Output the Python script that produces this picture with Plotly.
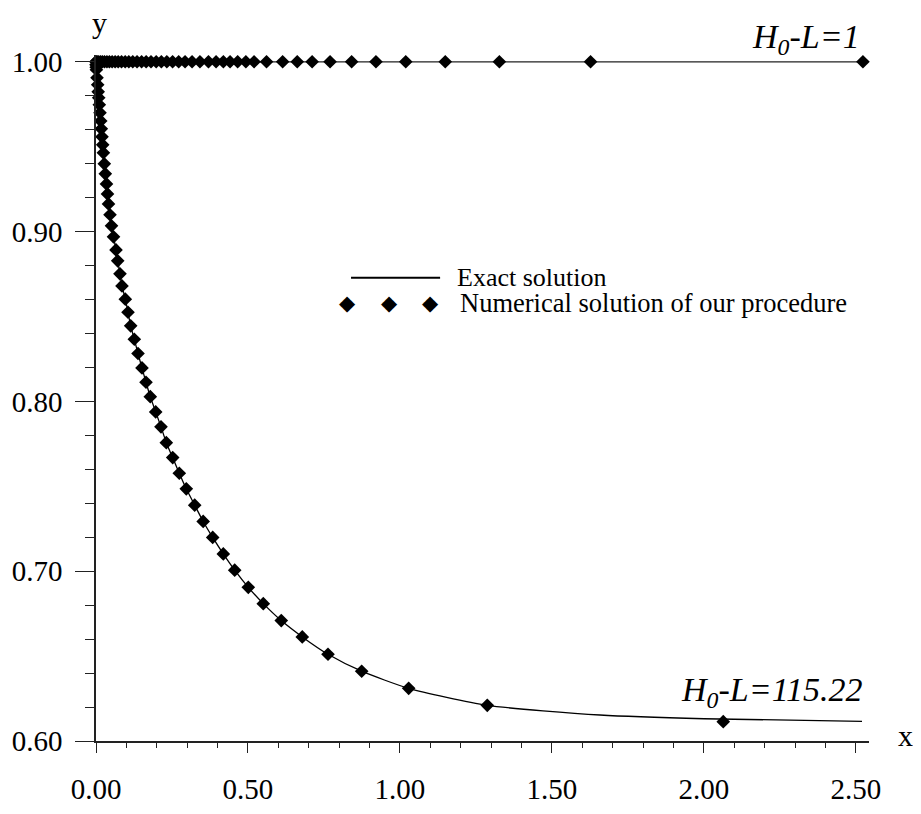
import plotly.graph_objects as go

# ---- data ----
# numerical solution, H0-L = 115.22 (lower curve)
num_low_x = [0.000, 0.000, 0.0007, 0.0013, 0.0033, 0.0056, 0.0072, 0.0089, 0.0109, 0.0132,
             0.0155, 0.0174, 0.0197, 0.0220, 0.0243, 0.0273, 0.0306, 0.0345, 0.0378, 0.0411,
             0.0461, 0.0510, 0.0576, 0.0658, 0.0714, 0.0789, 0.0855, 0.0964, 0.1053, 0.1141,
             0.1260, 0.1382, 0.1513, 0.1645, 0.1786, 0.1964, 0.2138, 0.2313, 0.2523, 0.2740,
             0.2970, 0.3247, 0.3526, 0.3839, 0.4188, 0.4563, 0.5010, 0.5503, 0.6095, 0.6786,
             0.7632, 0.8740, 1.0286, 1.2872, 2.0635]
num_low_y = [1.0000, 0.9982, 0.9968, 0.9953, 0.9906, 0.9865, 0.9823, 0.9788, 0.9747, 0.9700,
             0.9652, 0.9605, 0.9558, 0.9511, 0.9464, 0.9399, 0.9340, 0.9281, 0.9222, 0.9163,
             0.9099, 0.9034, 0.8969, 0.8892, 0.8828, 0.8751, 0.8680, 0.8602, 0.8525, 0.8445,
             0.8366, 0.8282, 0.8197, 0.8113, 0.8028, 0.7938, 0.7850, 0.7757, 0.7669, 0.7577,
             0.7485, 0.7389, 0.7293, 0.7199, 0.7102, 0.7006, 0.6905, 0.6809, 0.6709, 0.6613,
             0.6511, 0.6411, 0.6310, 0.6210, 0.6114]

# exact solution tail, H0-L = 115.22
exact_tail_x = [1.658, 2.000, 2.520]
exact_tail_y = [0.6153, 0.6131, 0.6116]

# numerical solution, H0-L = 1 (upper line)
num_up_x = [0.000, 0.004, 0.009, 0.015, 0.021, 0.028, 0.036, 0.044, 0.053, 0.063,
            0.073, 0.084, 0.096, 0.108, 0.121, 0.135, 0.150, 0.165, 0.181, 0.198,
            0.215, 0.233, 0.252, 0.272, 0.293, 0.316, 0.342, 0.370, 0.395, 0.419,
            0.441, 0.466, 0.493, 0.520, 0.561, 0.614, 0.662, 0.711, 0.770, 0.841,
            0.921, 1.019, 1.149, 1.327, 1.627, 2.523]
num_up_y = [1.0] * len(num_up_x)

exact_up_x = [0.0, 2.52]
exact_up_y = [1.0, 1.0]

x_ticks = [0.0, 0.5, 1.0, 1.5, 2.0, 2.5]
y_ticks = [0.6, 0.7, 0.8, 0.9, 1.0]

legend_labels = ["Exact solution", "Numerical solution of our procedure"]
curve_labels = ["<i>H<sub>0</sub>-L=1</i>", "<i>H<sub>0</sub>-L=115.22</i>"]

FONT = "Liberation Serif"

fig = go.Figure()

# exact solutions
fig.add_trace(go.Scatter(x=exact_up_x, y=exact_up_y, mode="lines",
                         line=dict(color="#222", width=1.3), showlegend=False, cliponaxis=False))
fig.add_trace(go.Scatter(x=num_low_x[:-1] + exact_tail_x, y=num_low_y[:-1] + exact_tail_y,
                         mode="lines", line=dict(color="black", width=1.3, shape="spline", smoothing=0.6),
                         showlegend=False, cliponaxis=False))
# numerical solutions
fig.add_trace(go.Scatter(x=num_up_x, y=num_up_y, mode="markers",
                         marker=dict(symbol="diamond", size=10.5, color="black"),
                         showlegend=False, cliponaxis=False))
fig.add_trace(go.Scatter(x=num_low_x, y=num_low_y, mode="markers",
                         marker=dict(symbol="diamond", size=10.5, color="black"),
                         showlegend=False, cliponaxis=False))

# manual legend
fig.add_shape(type="line", xref="x", yref="y", x0=0.839, x1=1.132, y0=0.8728, y1=0.8728,
              line=dict(color="black", width=2))
fig.add_annotation(x=1.181, y=0.8728, xref="x", yref="y", text=legend_labels[0], showarrow=False,
                   xanchor="left", yanchor="middle", font=dict(family=FONT, size=26, color="black"))
for lx in [0.828, 0.965, 1.099]:
    fig.add_annotation(x=lx, y=0.8578, xref="x", yref="y", text="◆", showarrow=False,
                       xanchor="center", yanchor="middle",
                       font=dict(family="DejaVu Sans", size=21, color="black"))
fig.add_annotation(x=1.191, y=0.8578, xref="x", yref="y", text=legend_labels[1], showarrow=False,
                   xanchor="left", yanchor="middle", font=dict(family=FONT, size=26.5, color="black"))

# curve labels
fig.add_annotation(x=0.991, y=1.0233, xref="paper", yref="paper", text=curve_labels[0], showarrow=False,
                   xanchor="right", yanchor="middle", font=dict(family=FONT, size=34, color="black"))
fig.add_annotation(x=2.53, y=0.6289, xref="x", yref="y", text=curve_labels[1], showarrow=False,
                   xanchor="right", yanchor="middle", font=dict(family=FONT, size=34, color="black"))

# axis names
fig.add_annotation(x=0.004, y=1.047, xref="paper", yref="paper", text="y", showarrow=False,
                   xanchor="center", yanchor="middle", font=dict(family=FONT, size=30, color="black"))
fig.add_annotation(x=1.0466, y=0.008, xref="paper", yref="paper", text="x", showarrow=False,
                   xanchor="center", yanchor="middle", font=dict(family=FONT, size=30, color="black"))

axis_common = dict(showgrid=False, zeroline=False, showline=True, linecolor="#222", linewidth=1.5,
                   ticks="outside", tickcolor="#222", tickwidth=1.3, automargin=False,
                   tickfont=dict(family=FONT, size=29, color="black"), tickformat=".2f")

fig.update_xaxes(range=[0, 2.543], tickvals=x_ticks, ticklen=10, ticklabelstandoff=11,
                 minor=dict(dtick=0.1, tick0=0, ticklen=5, ticks="outside", tickcolor="#222", tickwidth=1.3),
                 **axis_common)
fig.update_yaxes(range=[0.6, 1.004], tickvals=y_ticks, ticklen=19, ticklabelstandoff=7,
                 minor=dict(dtick=0.02, tick0=0.6, ticklen=9, ticks="outside", tickcolor="#222", tickwidth=1.3),
                 **axis_common)

fig.update_layout(width=921, height=814, margin=dict(l=88, r=60, t=47, b=81, autoexpand=False),
                  paper_bgcolor="white", plot_bgcolor="white", showlegend=False,
                  font=dict(family=FONT, color="black"))

fig.write_html("out.html")
